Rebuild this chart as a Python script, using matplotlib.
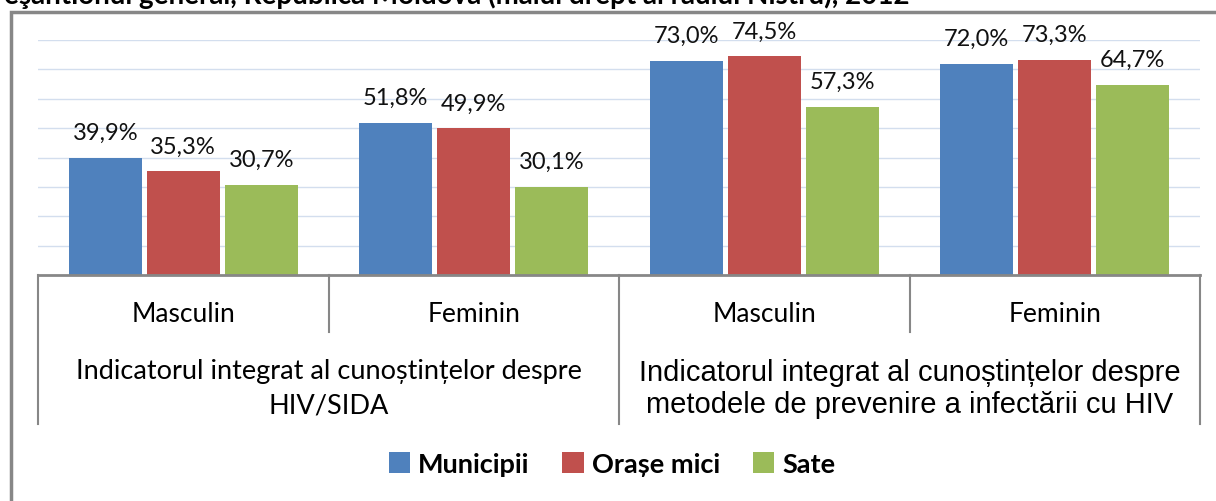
import matplotlib
matplotlib.use("Agg")
import matplotlib.pyplot as plt
from matplotlib.patches import Patch, Rectangle
from matplotlib.lines import Line2D
import numpy as np

# ---- data ----
categories = ["Masculin", "Feminin", "Masculin", "Feminin"]
groups = ["Indicatorul integrat al cunoștințelor despre\nHIV/SIDA",
          "Indicatorul integrat al cunoștințelor despre\nmetodele de prevenire a infectării cu HIV"]
series_names = ["Municipii", "Orașe mici", "Sate"]
municipii = [39.9, 51.8, 73.0, 72.0]
orase_mici = [35.3, 49.9, 74.5, 73.3]
sate = [30.7, 30.1, 57.3, 64.7]
title = "eşantionul general, Republica Moldova (malul drept al râului Nistru), 2012"

colors = ["#4F81BD", "#C0504D", "#9BBB59"]
W, H = 1216, 502
fig = plt.figure(figsize=(W / 100, H / 100), dpi=100)

def fx(px):
    return px / W

def fy(py):
    return 1 - py / H

# outer chart border
fig.patches.append(Rectangle((fx(11), fy(560)), fx(1260) - fx(11), fy(13) - fy(560),
                             transform=fig.transFigure, fill=False,
                             edgecolor="#878787", linewidth=2.5, zorder=0))

# title (cut at the top edge, as in the reference)
fig.text(fx(910), fy(4), title, ha="right", va="baseline", fontsize=20,
         fontweight="bold", family="Lato", color="black")

L, R, T, B = 38, 1200, 41, 276
ax = fig.add_axes([fx(L), fy(B), fx(R) - fx(L), fy(T) - fy(B)])
ax.set_xlim(0, 4)
ax.set_ylim(0, 80)
for s in ax.spines.values():
    s.set_visible(False)
ax.set_xticks([])
ax.set_yticks(np.arange(10, 81, 10))
ax.tick_params(axis="y", length=0, labelleft=False)
ax.yaxis.grid(True, color="#D3DEEE", linewidth=1.0)
ax.set_axisbelow(True)

x = np.arange(4) + 0.5
pitch = 0.2685
bw = 0.251
all_series = [municipii, orase_mici, sate]
for i, (vals, c) in enumerate(zip(all_series, colors)):
    xs = x + (i - 1) * pitch
    ax.bar(xs, vals, width=bw, color=c, zorder=2)
    for xi, v in zip(xs, vals):
        ax.annotate(f"{v:.1f}%".replace(".", ","), (xi, v), xytext=(0, 13.5),
                    textcoords="offset points", ha="center", va="baseline",
                    fontsize=17, family="Lato", color="#111111")

# category box lines
ah = B - T
def ay(py):
    return (B - py) / ah

lc = "#878787"
tr = ax.get_xaxis_transform()
ax.add_line(Line2D([0, 4], [0, 0], transform=tr, color=lc, lw=2, clip_on=False, zorder=3))
for xv, bottom in [(0, 425), (1, 333), (2, 425), (3, 333), (4, 425)]:
    ax.add_line(Line2D([xv, xv], [0, ay(bottom)], transform=tr, color=lc, lw=1.5,
                       clip_on=False, zorder=3))

for xi, cat in zip(x, categories):
    ax.text(xi, ay(315), cat, transform=tr, ha="center", va="center",
            fontsize=19, family="Lato", color="black")

ax.text(1.0, ay(389), groups[0], transform=tr, ha="center", va="center",
        fontsize=19.5, family="Lato", color="black", linespacing=1.5)
ax.text(3.0, ay(389), groups[1], transform=tr, ha="center", va="center",
        fontsize=21, family=["Liberation Sans Narrow", "Liberation Sans"],
        color="black", linespacing=1.2)

handles = [Patch(facecolor=c, edgecolor="none") for c in colors]
fig.legend(handles, series_names, loc="center", bbox_to_anchor=(fx(612), fy(465)),
           ncol=3, frameon=False, handlelength=0.8, handleheight=0.8,
           handletextpad=0.3, columnspacing=1.2,
           prop={"family": "Lato", "weight": "bold", "size": 19.5})

fig.savefig("out.png", dpi=100)
